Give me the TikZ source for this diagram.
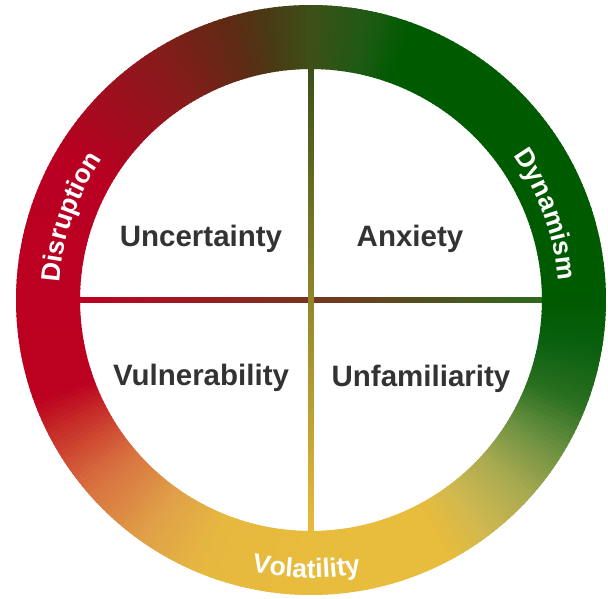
\documentclass[tikz,border=0pt]{standalone}
\usepackage{fontspec}
\setmainfont{Liberation Sans}
\usetikzlibrary{decorations.text}

\definecolor{labelgray}{HTML}{333333}
\definecolor{crossred}{HTML}{C00022}
\definecolor{crossmid}{HTML}{5A4A22}
\definecolor{crossgreen}{HTML}{2E6A1C}
\definecolor{crosstop}{HTML}{3A5018}
\definecolor{crossyellow}{HTML}{E8BC3C}

\tikzset{
  quadlabel/.style={font=\bfseries\fontsize{29.5}{32}\selectfont, text=labelgray, anchor=base, inner sep=0pt},
  ringlabel/.style={decorate, decoration={text along path, text align=center, text color=white,
      text={|\bfseries\fontsize{26.5}{28}\selectfont|#1}}}
}

\begin{document}
\begin{tikzpicture}[x=1pt,y=1pt]
\useasboundingbox (-311,-298) rectangle (297,300);

% cross
\shade[left color=crossred, middle color=crossmid, right color=crossgreen] (-232,-2.8) rectangle (232,2.8);
\shade[top color=crosstop, middle color=crossmid, bottom color=crossyellow] (-2.8,-232) rectangle (2.8,232);

% ring, one degree at a time
\foreach \aa/\ca/\ab/\cb in {0/005A00/70/005A00, 70/005A00/78/1E5A14, 78/1E5A14/90/3E5018,
    90/3E5018/99/4A3A14, 99/4A3A14/107/602A14, 107/602A14/123/8A1A1C, 123/8A1A1C/150/BA0022,
    150/BA0022/200/BC0020, 200/BC0020/208/C8302A, 208/C8302A/220/D8703F, 220/D8703F/235/E0A048,
    235/E0A048/248/E6B840, 248/E6B840/270/E8BC3C, 270/E8BC3C/298/E8BC3C, 298/E8BC3C/307/D0B850,
    307/D0B850/318/A8AA50, 318/A8AA50/329/6A9040, 329/6A9040/339/2A7020, 339/2A7020/350/0A6010,
    350/0A6010/360/005A00} {
  \definecolor{ca}{HTML}{\ca}
  \definecolor{cb}{HTML}{\cb}
  \pgfmathtruncatemacro\n{\ab-\aa}
  \foreach \i in {1,...,\n} {
    \pgfmathsetmacro\s{\aa+\i-1}
    \pgfmathsetmacro\e{\aa+\i+0.4}
    \pgfmathtruncatemacro\p{round(100*(\i-0.5)/\n)}
    \fill[cb!\p!ca] (\s:295) arc[start angle=\s, end angle=\e, radius=295]
      -- (\e:231) arc[start angle=\e, end angle=\s, radius=231] -- cycle;
  }
}

\path[ringlabel=Disruption] (182:252) arc[start angle=182, end angle=140, radius=252];
\path[ringlabel=Dynamism] (41:248) arc[start angle=41, end angle=-1, radius=248];
\path[ringlabel=Volatility] (248:278) arc[start angle=248, end angle=290, radius=278];

\node[quadlabel] (uncert) at (-110,54) {Uncertainty};
\node[quadlabel] (anx) at (99,54) {Anxiety};
\node[quadlabel] (vuln) at (-110,-85) {Vulnerability};
\node[quadlabel] (unfam) at (110,-86) {Unfamiliarity};
\end{tikzpicture}
\end{document}
